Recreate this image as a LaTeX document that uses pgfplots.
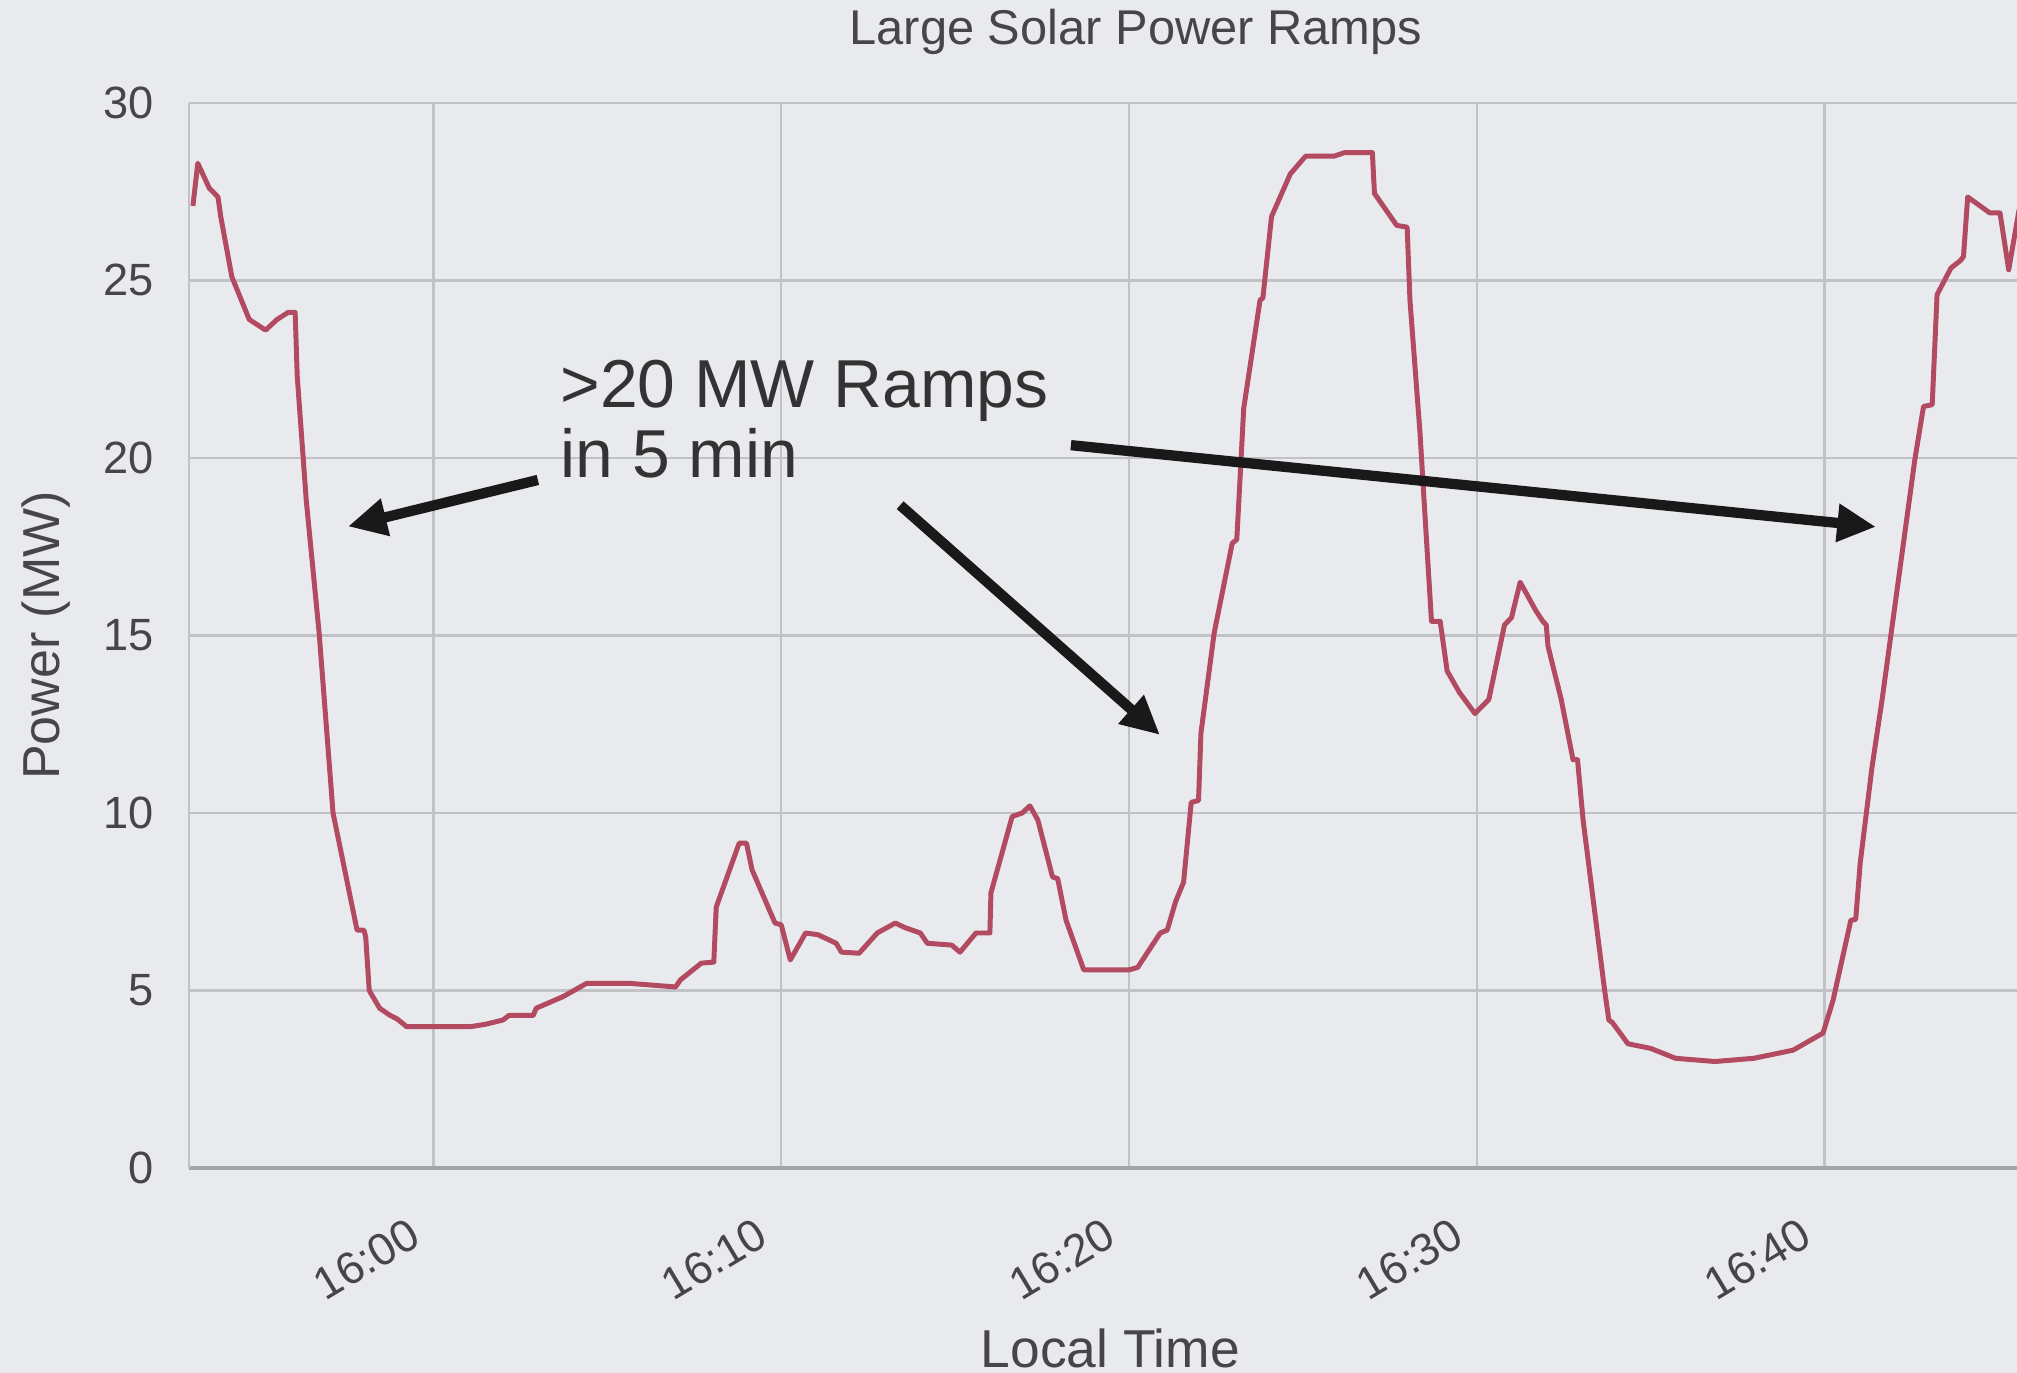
\documentclass[border=0pt]{standalone}
\usepackage{pgfplots}
\pgfplotsset{compat=1.18}
\usepackage{fontspec}
\setmainfont{Liberation Sans}
\usetikzlibrary{arrows.meta}

\definecolor{bg}{RGB}{233,234,237}
\definecolor{gridc}{RGB}{193,194,198}
\definecolor{txt}{RGB}{70,70,74}
\definecolor{series}{RGB}{178,74,97}

% minutes after 16:00 vs power (MW)
\pgfplotstableread{
t     p
-6.92 27.1
-6.78 28.3
-6.45 27.6
-6.20 27.35
-6.12 26.8
-5.80 25.1
-5.30 23.9
-4.83 23.6
-4.50 23.9
-4.18 24.1
-3.98 24.1
-3.92 22.3
-3.66 18.8
-3.29 15.07
-2.89 10.0
-2.20 6.7
-2.00 6.7
-1.95 6.5
-1.85 5.0
-1.55 4.5
-1.25 4.3
-1.05 4.2
-0.77 3.98
1.05 3.98
1.50 4.05
2.00 4.17
2.17 4.3
2.87 4.3
2.95 4.5
3.73 4.83
4.40 5.2
5.65 5.2
6.96 5.1
7.10 5.3
7.70 5.77
8.06 5.8
8.13 7.35
8.79 9.15
9.00 9.15
9.16 8.4
9.82 6.9
10.00 6.85
10.26 5.86
10.70 6.62
11.06 6.57
11.58 6.33
11.73 6.08
12.24 6.05
12.76 6.62
13.28 6.9
13.56 6.77
14.00 6.62
14.20 6.33
14.90 6.28
15.14 6.08
15.60 6.62
16.00 6.62
16.03 7.75
16.64 9.9
16.93 10.0
17.15 10.2
17.38 9.8
17.80 8.2
17.95 8.15
18.19 6.98
18.70 5.58
20.00 5.58
20.25 5.65
20.90 6.62
21.10 6.7
21.34 7.5
21.57 8.05
21.79 10.3
22.00 10.35
22.07 12.25
22.45 15.07
22.97 17.6
23.10 17.7
23.15 18.6
23.30 21.4
23.77 24.45
23.85 24.5
24.10 26.8
24.64 28.0
25.08 28.5
25.90 28.5
26.20 28.6
27.00 28.6
27.06 27.45
27.70 26.55
28.00 26.5
28.08 24.45
28.37 20.7
28.47 19.07
28.70 15.4
28.95 15.4
29.15 14.0
29.50 13.4
29.95 12.8
30.35 13.2
30.80 15.3
31.00 15.5
31.25 16.5
31.70 15.7
31.90 15.4
32.00 15.3
32.05 14.7
32.43 13.2
32.77 11.5
32.90 11.5
33.06 9.8
33.68 5.0
33.80 4.17
33.90 4.1
34.35 3.5
35.00 3.37
35.72 3.09
36.85 3.0
37.97 3.09
39.10 3.32
39.96 3.8
40.25 4.73
40.76 6.98
40.90 7.0
41.03 8.6
41.37 11.3
41.66 13.2
42.60 19.95
42.85 21.45
43.10 21.5
43.24 24.6
43.64 25.35
43.90 25.55
44.00 25.67
44.12 27.35
44.76 26.9
45.05 26.9
45.30 25.3
45.60 27.0
}\powerdata

\begin{document}
\begin{tikzpicture}
\fill[bg] (0,0) rectangle (156.8mm,106.7mm);
\begin{axis}[
  at={(14.7mm,15.9mm)}, anchor=south west,
  width=142.1mm, height=82.8mm, scale only axis,
  xmin=-7.03, xmax=45.54, ymin=0, ymax=30,
  xtick={0,10,20,30,40},
  xticklabels={16:00,16:10,16:20,16:30,16:40},
  ytick={0,5,...,30},
  grid=major,
  major grid style={draw=gridc, line width=0.5pt},
  axis x line*=bottom, axis y line*=left,
  x axis line style={draw=gridc!85!black, line width=0.8pt, -},
  y axis line style={draw=gridc, line width=0.5pt, -},
  major tick length=0pt,
  tick label style={font=\fontsize{10}{12}\selectfont, text=txt},
  /pgf/number format/assume math mode=true,
  yticklabel style={inner sep=0pt, xshift=-2.7mm},
  xticklabel style={inner sep=0pt, xshift=-1.4mm, yshift=-4.8mm, rotate=31, anchor=east},
  xlabel={Local Time},
  xlabel style={at={(axis description cs:0.504,-0.169)}, anchor=center, font=\fontsize{11.8}{14}\selectfont, text=txt},
  ylabel={Power (MW)},
  ylabel style={at={(axis description cs:-0.078,0.5)}, anchor=center, font=\fontsize{11.5}{14}\selectfont, text=txt},
]
\addplot[series, line width=1.1pt, line join=round] table[x=t, y=p] {\powerdata};

\node[anchor=north west, inner sep=0pt, align=left, text=black!80,
  font=\fontsize{15}{15.6}\selectfont] at (axis cs:3.63,22.79) {>20 MW Ramps\\in 5 min};
\draw[line width=0.8mm, black!90, -{Triangle[length=3mm, width=2.8mm]}]
  (axis cs:3.0,19.38) -- (axis cs:-2.46,18.07);
\draw[line width=0.8mm, black!90, -{Triangle[length=3mm, width=2.8mm]}]
  (axis cs:13.42,18.67) -- (axis cs:20.89,12.2);
\draw[line width=0.8mm, black!90, -{Triangle[length=3mm, width=2.8mm]}]
  (axis cs:18.33,20.36) -- (axis cs:41.48,18.06);
\end{axis}
% chart title
\node[font=\fontsize{10.8}{13}\selectfont, text=txt, inner sep=0pt] at (88.3mm,104.2mm) {Large Solar Power Ramps};
\pgfresetboundingbox
\useasboundingbox (0,0) rectangle (156.8mm,106.7mm);
\end{tikzpicture}
\end{document}
